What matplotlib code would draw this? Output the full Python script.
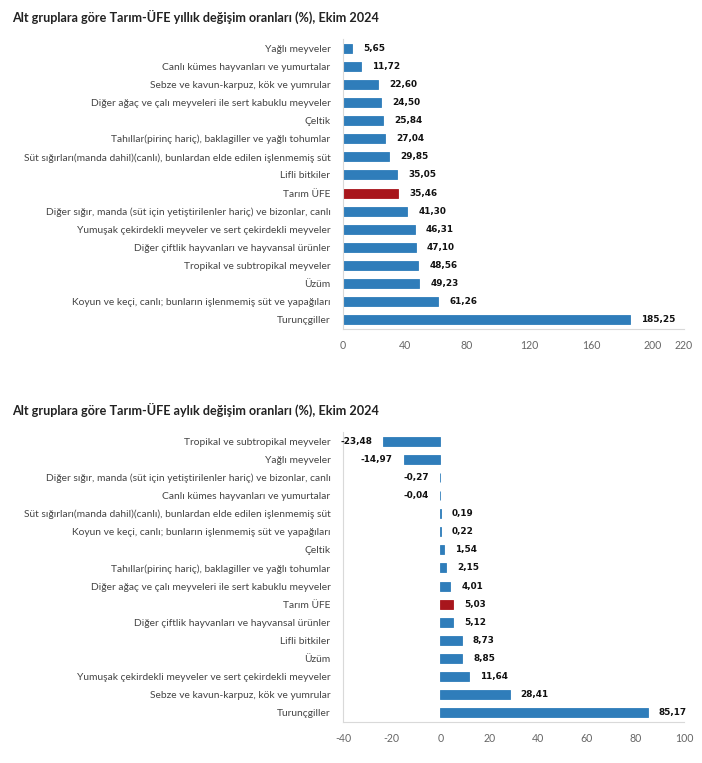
import matplotlib
matplotlib.use("Agg")
import matplotlib.pyplot as plt

title_top = "Alt gruplara göre Tarım-ÜFE yıllık değişim oranları (%), Ekim 2024"
cats_top = ["Yağlı meyveler", "Canlı kümes hayvanları ve yumurtalar",
            "Sebze ve kavun-karpuz, kök ve yumrular",
            "Diğer ağaç ve çalı meyveleri ile sert kabuklu meyveler", "Çeltik",
            "Tahıllar(pirinç hariç), baklagiller ve yağlı tohumlar",
            "Süt sığırları(manda dahil)(canlı), bunlardan elde edilen işlenmemiş süt",
            "Lifli bitkiler", "Tarım ÜFE",
            "Diğer sığır, manda (süt için yetiştirilenler hariç) ve bizonlar, canlı",
            "Yumuşak çekirdekli meyveler ve sert çekirdekli meyveler",
            "Diğer çiftlik hayvanları ve hayvansal ürünler",
            "Tropikal ve subtropikal meyveler", "Üzüm",
            "Koyun ve keçi, canlı; bunların işlenmemiş süt ve yapağıları", "Turunçgiller"]
vals_top = [5.65, 11.72, 22.60, 24.50, 25.84, 27.04, 29.85, 35.05, 35.46, 41.30,
            46.31, 47.10, 48.56, 49.23, 61.26, 185.25]
ticks_top = [0, 40, 80, 120, 160, 200, 220]

title_bot = "Alt gruplara göre Tarım-ÜFE aylık değişim oranları (%), Ekim 2024"
cats_bot = ["Tropikal ve subtropikal meyveler", "Yağlı meyveler",
            "Diğer sığır, manda (süt için yetiştirilenler hariç) ve bizonlar, canlı",
            "Canlı kümes hayvanları ve yumurtalar",
            "Süt sığırları(manda dahil)(canlı), bunlardan elde edilen işlenmemiş süt",
            "Koyun ve keçi, canlı; bunların işlenmemiş süt ve yapağıları", "Çeltik",
            "Tahıllar(pirinç hariç), baklagiller ve yağlı tohumlar",
            "Diğer ağaç ve çalı meyveleri ile sert kabuklu meyveler", "Tarım ÜFE",
            "Diğer çiftlik hayvanları ve hayvansal ürünler", "Lifli bitkiler", "Üzüm",
            "Yumuşak çekirdekli meyveler ve sert çekirdekli meyveler",
            "Sebze ve kavun-karpuz, kök ve yumrular", "Turunçgiller"]
vals_bot = [-23.48, -14.97, -0.27, -0.04, 0.19, 0.22, 1.54, 2.15, 4.01, 5.03,
            5.12, 8.73, 8.85, 11.64, 28.41, 85.17]
ticks_bot = [-40, -20, 0, 20, 40, 60, 80, 100]

BLUE = "#2F7DBA"
RED = "#A8161C"
W, H = 702, 763
fig = plt.figure(figsize=(W / 100, H / 100), dpi=100)


def fmt(v):
    return f"{v:.2f}".replace(".", ",")


def draw(ax, cats, vals, ticks, xlim):
    n = len(cats)
    ys = list(range(n))
    colors = [RED if c == "Tarım ÜFE" else BLUE for c in cats]
    ax.barh(ys, vals, height=0.5, color=colors, edgecolor=colors, linewidth=0.6)
    ax.set_ylim(n - 0.5, -0.5)
    ax.set_xlim(*xlim)
    ax.set_yticks(ys)
    ax.set_yticklabels(cats, fontsize=7.4, color="#444444", family="Lato")
    ax.set_xticks(ticks)
    ax.set_xticklabels([str(t) for t in ticks], fontsize=7.6, color="#666666",
                       family="Lato")
    ax.tick_params(axis="both", length=0)
    ax.tick_params(axis="y", pad=9)
    ax.tick_params(axis="x", pad=8)
    for s in ["top", "right"]:
        ax.spines[s].set_visible(False)
    for s in ["left", "bottom"]:
        ax.spines[s].set_color("#d9d9d9")
        ax.spines[s].set_linewidth(0.8)
    for y, v in zip(ys, vals):
        if v >= 0:
            ax.annotate(fmt(v), (v, y), xytext=(8, 0), textcoords="offset points",
                        ha="left", va="center", fontsize=6.4, fontweight="bold",
                        family="DejaVu Sans", color="#111111")
        else:
            ax.annotate(fmt(v), (v, y), xytext=(-8, 0), textcoords="offset points",
                        ha="right", va="center", fontsize=6.4, fontweight="bold",
                        family="DejaVu Sans", color="#111111")


ax1 = fig.add_axes([343 / W, 1 - 329 / H, (684 - 343) / W, 290 / H])
draw(ax1, cats_top, vals_top, ticks_top, (0, 220))
ax2 = fig.add_axes([343 / W, 1 - 722 / H, (684 - 343) / W, 290 / H])
draw(ax2, cats_bot, vals_bot, ticks_bot, (-40, 100))

fig.text(12 / W, 1 - 17 / H, title_top, fontsize=9.1, fontweight="bold",
         family="Lato", va="center", ha="left", color="#222222")
fig.text(12 / W, 1 - 410 / H, title_bot, fontsize=9.1, fontweight="bold",
         family="Lato", va="center", ha="left", color="#222222")

fig.savefig("out.png", dpi=100, facecolor="white")
